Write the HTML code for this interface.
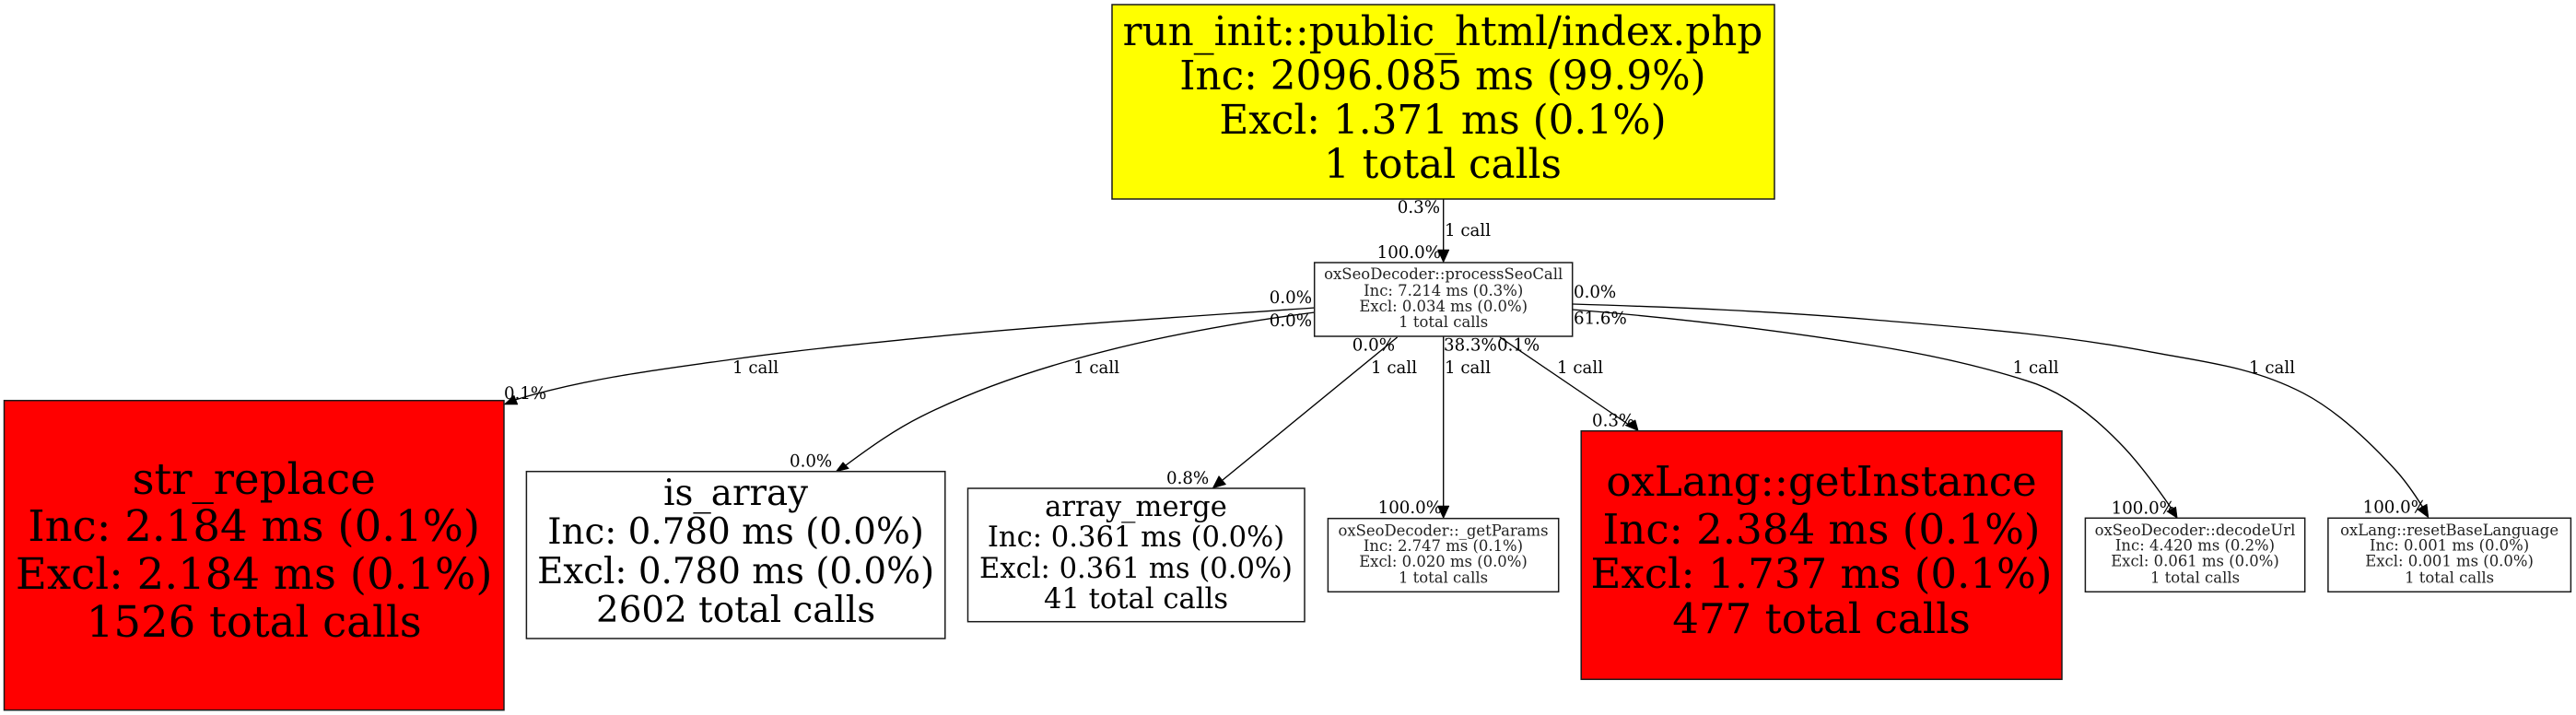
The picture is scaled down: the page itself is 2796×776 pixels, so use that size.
<!DOCTYPE html>
<html>
<head>
<meta charset="utf-8">
<style>
html,body{margin:0;padding:0;background:#fff;width:2796px;height:776px;overflow:hidden}
svg{display:block}
text{font-family:"DejaVu Serif","Liberation Serif",serif;fill:#000}
.e{font-size:18.2px}
.s{font-size:16.45px;fill:#222}
.m{text-anchor:middle}
.r{text-anchor:end}
rect{stroke:#1a1a1a;stroke-width:1.5}
path.l{fill:none;stroke:#000;stroke-width:1.35}
polygon{fill:#000;stroke:#000;stroke-width:.5}
</style>
</head>
<body>
<svg xmlns="http://www.w3.org/2000/svg" width="2796" height="776" viewBox="0 0 2796 776">
<rect x="0" y="0" width="2796" height="776" style="fill:#fff;stroke:none"/>

<!-- edges -->
<path class="l" d="M1566.7 216V272"/>
<polygon points="1566.7,285 1560.4,271 1573,271"/>
<path class="l" d="M1427 334C1285 344 1142 352.7 1000 366.7C932 373.5 863 380.4 795 390C716 401 638 410.3 559 434"/>
<polygon points="547,439 562,439 558,429"/>
<path class="l" d="M1427 339C1340 350.3 1253 365.6 1166 390C1111 405.4 1055 424.5 1000 452C971 466.5 945 485 918 505"/>
<polygon points="907,512 915,501.5 921.5,508.5"/>
<path class="l" d="M1516.6 366L1327 521"/>
<polygon points="1316,530 1323,516.4 1330.7,525.7"/>
<path class="l" d="M1566.7 365V550"/>
<polygon points="1566.7,562.7 1560.4,549 1573,549"/>
<path class="l" d="M1628 366L1768 461"/>
<polygon points="1778.3,467.7 1764,461.7 1775,455.7"/>
<path class="l" d="M1707 336C1816 344.7 1924 357.6 2033 375C2089 384 2144 395.4 2200 413.3C2233 423 2267 446 2300 480C2319 499 2338 524.5 2357 552"/>
<polygon points="2363.3,562.5 2351.7,555 2361.7,550"/>
<path class="l" d="M1707 330C1816 333.3 1924 337.7 2033 347C2133 355.5 2233 362.7 2333 381.7C2389 392.3 2444 397.6 2500 426.7C2533 443.9 2567 474 2600 510C2610 521 2620 535 2630 551"/>
<polygon points="2636,562 2623.8,553 2634.2,547"/>

<!-- root -->
<rect x="1207" y="5" width="719" height="211" style="fill:#ff0"/>
<g style="font-size:43.7px">
<text class="m" x="1566" y="49">run_init::public_html/index.php</text>
<text class="m" x="1566" y="97">Inc: 2096.085 ms (99.9%)</text>
<text class="m" x="1566" y="145">Excl: 1.371 ms (0.1%)</text>
<text class="m" x="1566" y="193">1 total calls</text>
</g>

<!-- processSeoCall -->
<rect x="1426.7" y="285" width="280" height="80" style="fill:#fff"/>
<text class="s m" x="1566.7" y="303">oxSeoDecoder::processSeoCall</text>
<text class="s m" x="1566.7" y="321">Inc: 7.214 ms (0.3%)</text>
<text class="s m" x="1566.7" y="338">Excl: 0.034 ms (0.0%)</text>
<text class="s m" x="1566.7" y="355">1 total calls</text>

<!-- str_replace -->
<rect x="4.5" y="434.7" width="542.5" height="336" style="fill:#f00"/>
<g style="font-size:46.6px">
<text class="m" x="275.7" y="536">str_replace</text>
<text class="m" x="275.7" y="587">Inc: 2.184 ms (0.1%)</text>
<text class="m" x="275.7" y="639">Excl: 2.184 ms (0.1%)</text>
<text class="m" x="275.7" y="691">1526 total calls</text>
</g>

<!-- is_array -->
<rect x="571.4" y="511.7" width="454.4" height="181.3" style="fill:#fff"/>
<g style="font-size:38.8px">
<text class="m" x="798.6" y="548">is_array</text>
<text class="m" x="798.6" y="590">Inc: 0.780 ms (0.0%)</text>
<text class="m" x="798.6" y="633">Excl: 0.780 ms (0.0%)</text>
<text class="m" x="798.6" y="675">2602 total calls</text>
</g>

<!-- array_merge -->
<rect x="1050.5" y="530" width="365.5" height="144.7" style="fill:#fff"/>
<g style="font-size:30.6px">
<text class="m" x="1233" y="560">array_merge</text>
<text class="m" x="1233" y="593">Inc: 0.361 ms (0.0%)</text>
<text class="m" x="1233" y="627">Excl: 0.361 ms (0.0%)</text>
<text class="m" x="1233" y="660">41 total calls</text>
</g>

<!-- getParams -->
<rect x="1441.4" y="562.7" width="250.3" height="79.6" style="fill:#fff"/>
<text class="s m" x="1566.5" y="581.5">oxSeoDecoder::_getParams</text>
<text class="s m" x="1566.5" y="598">Inc: 2.747 ms (0.1%)</text>
<text class="s m" x="1566.5" y="615">Excl: 0.020 ms (0.0%)</text>
<text class="s m" x="1566.5" y="632.5">1 total calls</text>

<!-- oxLang::getInstance -->
<rect x="1716.2" y="467.7" width="521.8" height="269.6" style="fill:#f00"/>
<g style="font-size:45.1px">
<text class="m" x="1977" y="538">oxLang::getInstance</text>
<text class="m" x="1977" y="590">Inc: 2.384 ms (0.1%)</text>
<text class="m" x="1977" y="638">Excl: 1.737 ms (0.1%)</text>
<text class="m" x="1977" y="687">477 total calls</text>
</g>

<!-- decodeUrl -->
<rect x="2263.4" y="562.3" width="238.3" height="80" style="fill:#fff"/>
<text class="s m" x="2382.5" y="581">oxSeoDecoder::decodeUrl</text>
<text class="s m" x="2382.5" y="597.7">Inc: 4.420 ms (0.2%)</text>
<text class="s m" x="2382.5" y="614.7">Excl: 0.061 ms (0.0%)</text>
<text class="s m" x="2382.5" y="632.5">1 total calls</text>

<!-- resetBaseLanguage -->
<rect x="2526.9" y="562.3" width="263.5" height="80" style="fill:#fff"/>
<text class="s m" x="2658.6" y="581">oxLang::resetBaseLanguage</text>
<text class="s m" x="2658.6" y="597.7">Inc: 0.001 ms (0.0%)</text>
<text class="s m" x="2658.6" y="614.7">Excl: 0.001 ms (0.0%)</text>
<text class="s m" x="2658.6" y="632.5">1 total calls</text>

<!-- edge labels -->
<text class="e r" x="1563" y="231">0.3%</text>
<text class="e" x="1568" y="256">1 call</text>
<text class="e r" x="1564" y="280">100.0%</text>
<text class="e r" x="1424" y="329">0.0%</text>
<text class="e r" x="1424" y="354">0.0%</text>
<text class="e r" x="1514" y="380.7">0.0%</text>
<text class="e" x="1567" y="380.7">38.3%</text>
<text class="e" x="1625" y="380.7">0.1%</text>
<text class="e" x="1708" y="323">0.0%</text>
<text class="e" x="1708" y="351.7">61.6%</text>
<text class="e" x="795" y="405">1 call</text>
<text class="e" x="1165" y="405">1 call</text>
<text class="e" x="1488" y="405">1 call</text>
<text class="e" x="1568" y="405">1 call</text>
<text class="e" x="1690" y="405">1 call</text>
<text class="e" x="2184.6" y="405">1 call</text>
<text class="e" x="2441" y="405">1 call</text>
<text class="e" x="547" y="433">0.1%</text>
<text class="e" x="857" y="506.7">0.0%</text>
<text class="e" x="1266" y="525">0.8%</text>
<text class="e r" x="1565" y="557">100.0%</text>
<text class="e" x="1728" y="462.7">0.3%</text>
<text class="e r" x="2361" y="557.5">100.0%</text>
<text class="e r" x="2634" y="556.7">100.0%</text>
</svg>
</body>
</html>
